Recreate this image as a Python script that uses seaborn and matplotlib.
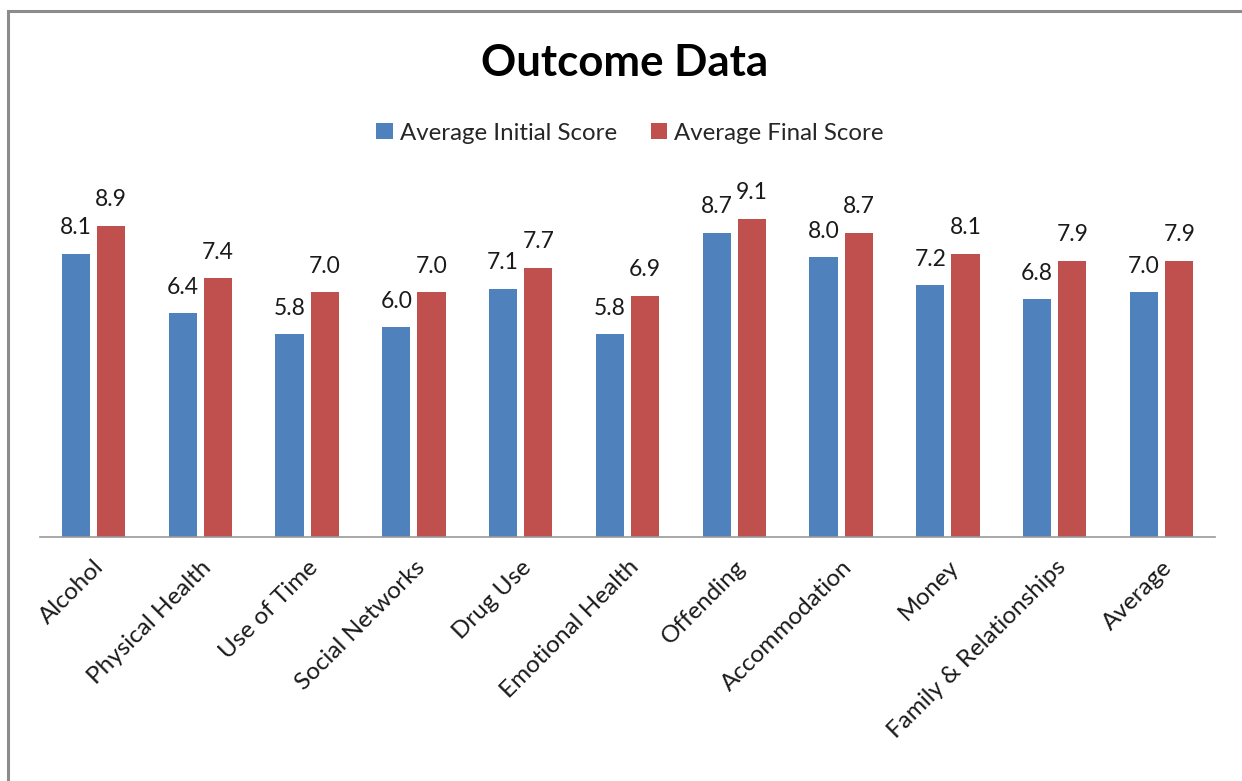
import matplotlib
matplotlib.use("Agg")
import matplotlib.pyplot as plt
from matplotlib.patches import Rectangle
import seaborn as sns
import pandas as pd

categories = ["Alcohol", "Physical Health", "Use of Time", "Social Networks",
              "Drug Use", "Emotional Health", "Offending", "Accommodation",
              "Money", "Family & Relationships", "Average"]
initial_scores = [8.1, 6.4, 5.8, 6.0, 7.1, 5.8, 8.7, 8.0, 7.2, 6.8, 7.0]
final_scores = [8.9, 7.4, 7.0, 7.0, 7.7, 6.9, 9.1, 8.7, 8.1, 7.9, 7.9]
series_names = ["Average Initial Score", "Average Final Score"]

df = pd.DataFrame({
    "category": categories * 2,
    "score": initial_scores + final_scores,
    "series": [series_names[0]] * len(categories) + [series_names[1]] * len(categories),
})

sns.set_style("white")
plt.rcParams['font.family'] = ['Lato', 'DejaVu Sans']

fig = plt.figure(figsize=(12.42, 7.81), dpi=100)
ax = fig.add_axes([40 / 1242, 1 - 537 / 781, 1175 / 1242, 350 / 781])

sns.barplot(data=df, x="category", y="score", hue="series",
            palette=["#4F81BD", "#C0504D"], width=0.66, gap=0.2,
            order=categories, hue_order=series_names, ax=ax,
            edgecolor="none", saturation=1)

for cont in ax.containers:
    ax.bar_label(cont, fmt="%.1f", padding=11, fontsize=16.5, color="#1a1a1a")

ax.set_ylim(0, 10)
ax.set_xlim(-0.5, len(categories) - 0.5)
ax.set_xlabel("")
ax.set_ylabel("")
ax.set_yticks([])
for s in ["top", "right", "left"]:
    ax.spines[s].set_visible(False)
ax.spines["bottom"].set_color("#999999")
ax.spines["bottom"].set_linewidth(1.2)
ax.tick_params(axis="x", length=0, pad=14)
plt.setp(ax.get_xticklabels(), rotation=45, ha="right", rotation_mode="anchor",
         fontsize=17.5, color="#1a1a1a")

ax.legend(loc="center", bbox_to_anchor=(630 / 1242, 1 - 133 / 781),
          bbox_transform=fig.transFigure, ncol=2, frameon=False,
          fontsize=17.3, handlelength=0.68, handleheight=0.68,
          handletextpad=0.3, columnspacing=1.4)

fig.text(625 / 1242, 1 - 63 / 781, "Outcome Data", ha="center", va="center",
         fontsize=31.5, fontweight="bold", color="black")

# chart frame (only top and left visible in the crop)
fig.patches.append(Rectangle((8 / 1242, -0.05), 1.2, 1 - 11 / 781 + 0.05,
                             transform=fig.transFigure, fill=False,
                             edgecolor="#8c8c8c", linewidth=2.2))

fig.savefig("out.png", dpi=100)
